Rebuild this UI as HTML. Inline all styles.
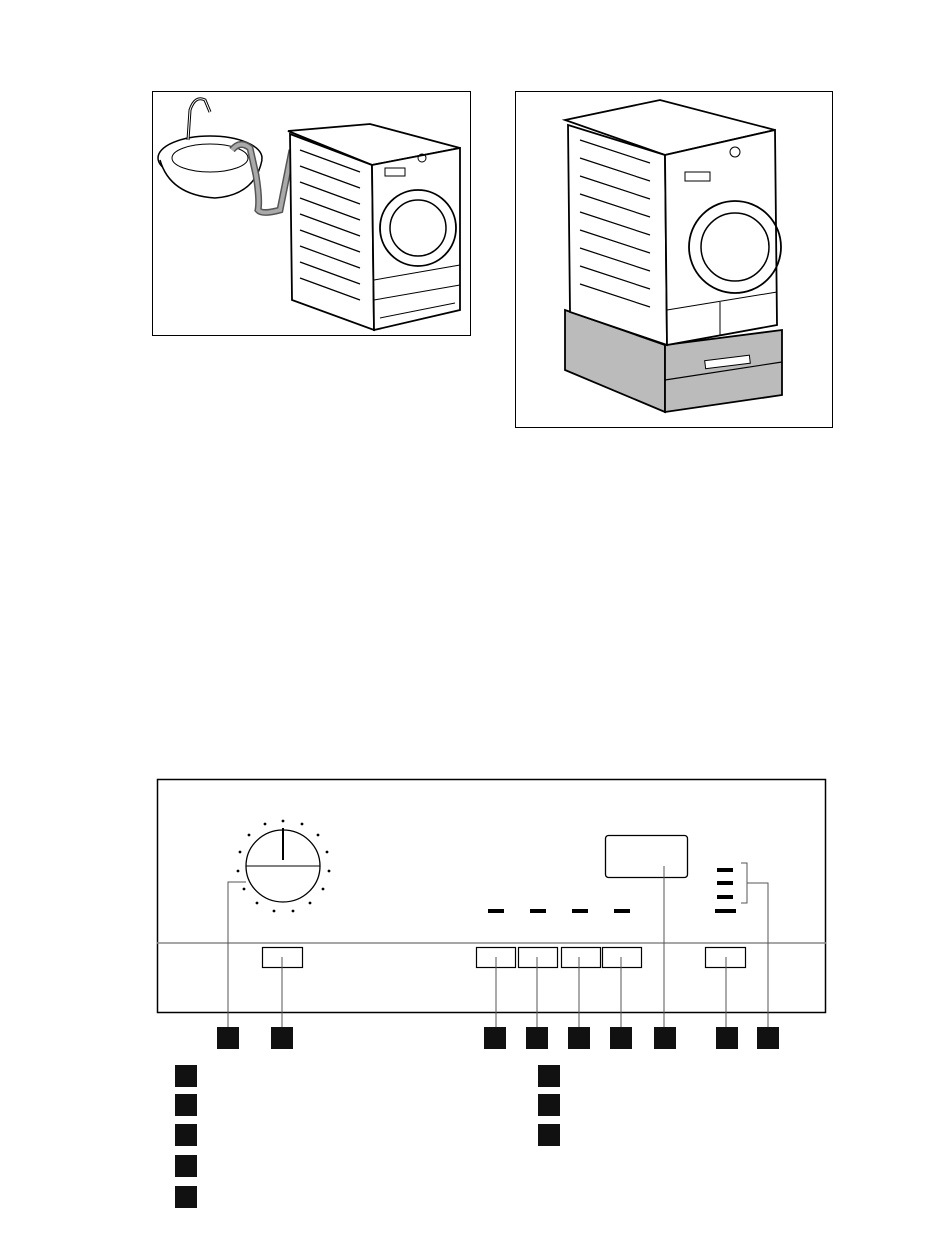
<!DOCTYPE html>
<html><head><meta charset="utf-8"><style>body{margin:0;background:#fff}svg{display:block}</style></head><body>
<svg width="950" height="1244" viewBox="0 0 950 1244" xmlns="http://www.w3.org/2000/svg" fill="none" stroke="#000">
<!-- left illustration -->
<rect x="152.5" y="91.5" width="318" height="244" stroke-width="1"/>
<ellipse cx="210" cy="158" rx="52" ry="22" stroke-width="1.5" fill="#fff"/>
<path d="M160 160 Q170 195 215 198 Q255 195 262 160" stroke-width="1.5" fill="#fff"/>
<ellipse cx="210" cy="158" rx="38" ry="14" stroke-width="1"/>
<path d="M188 140 L190 110 Q195 95 205 100 L210 112" stroke-width="3"/>
<path d="M188 140 L190 110 Q195 95 205 100 L210 112" stroke="#fff" stroke-width="1"/>
<path d="M232 150 Q240 140 250 148 L256 175 Q260 200 258 210 Q262 215 280 210 L292 150" stroke="#555" stroke-width="7"/>
<path d="M232 150 Q240 140 250 148 L256 175 Q260 200 258 210 Q262 215 280 210 L292 150" stroke="#aaa" stroke-width="4"/>
<polygon points="288,131 370,124 460,148 372,165" fill="#fff" stroke-width="1.8"/>
<polygon points="290,134 372,165 374,330 292,300" fill="#fff" stroke-width="1.8"/>
<polygon points="372,165 460,148 460,310 374,330" fill="#fff" stroke-width="1.8"/>
<g stroke-width="1.2">
<path d="M300 150 L360 172 M300 166 L360 188 M300 182 L360 204 M300 198 L360 220 M300 214 L360 236 M300 230 L360 252 M300 246 L360 268 M300 262 L360 284 M300 278 L360 300"/>
</g>
<circle cx="418" cy="228" r="38" stroke-width="1.8"/>
<circle cx="418" cy="228" r="28" stroke-width="1.5"/>
<rect x="385" y="168" width="20" height="8" stroke-width="1"/>
<circle cx="422" cy="158" r="4" stroke-width="1"/>
<path d="M374 280 L460 265 M374 300 L460 285 M380 318 L455 303" stroke-width="1"/>
<!-- right illustration -->
<rect x="515.5" y="91.5" width="317" height="336" stroke-width="1"/>
<polygon points="565,310 665,345 665,412 565,370" fill="#bbb" stroke-width="1.8"/>
<polygon points="665,345 782,330 782,395 665,412" fill="#bbb" stroke-width="1.8"/>
<path d="M665 380 L782 362" stroke-width="1.2"/>
<rect x="705" y="358" width="45" height="8" fill="#fff" stroke-width="1" transform="rotate(-7 727 362)"/>
<polygon points="565,120 660,100 775,130 665,155" fill="#fff" stroke-width="1.8"/>
<polygon points="568,125 665,155 667,345 570,312" fill="#fff" stroke-width="1.8"/>
<polygon points="665,155 775,130 777,325 667,345" fill="#fff" stroke-width="1.8"/>
<g stroke-width="1.2">
<path d="M580 140 L650 163 M580 158 L650 181 M580 176 L650 199 M580 194 L650 217 M580 212 L650 235 M580 230 L650 253 M580 248 L650 271 M580 266 L650 289 M580 284 L650 307"/>
</g>
<circle cx="735" cy="247" r="46" stroke-width="1.8"/>
<circle cx="735" cy="247" r="34" stroke-width="1.5"/>
<rect x="685" y="172" width="25" height="9" stroke-width="1"/>
<circle cx="735" cy="152" r="5" stroke-width="1"/>
<path d="M667 310 L777 292 M720 302 L720 335"/>
<!-- panel -->
<rect x="157.5" y="779.5" width="668" height="233" stroke-width="1.5"/>
<line x1="157" y1="943" x2="826" y2="943" stroke="#888" stroke-width="1.5"/>
<ellipse cx="283" cy="866" rx="37" ry="36" stroke-width="1.3"/>
<line x1="246" y1="866" x2="320" y2="866" stroke-width="1"/>
<line x1="283" y1="828" x2="283" y2="860" stroke-width="2"/>
<g fill="#000" stroke="none">
<circle cx="283" cy="821" r="1.4"/><circle cx="265" cy="824" r="1.4"/><circle cx="302" cy="824" r="1.4"/>
<circle cx="249" cy="835" r="1.4"/><circle cx="318" cy="835" r="1.4"/>
<circle cx="240" cy="852" r="1.4"/><circle cx="327" cy="852" r="1.4"/>
<circle cx="238" cy="871" r="1.4"/><circle cx="329" cy="871" r="1.4"/>
<circle cx="244" cy="889" r="1.4"/><circle cx="323" cy="889" r="1.4"/>
<circle cx="257" cy="903" r="1.4"/><circle cx="310" cy="903" r="1.4"/>
<circle cx="274" cy="911" r="1.4"/><circle cx="293" cy="911" r="1.4"/>
<rect x="488" y="909" width="16" height="4"/><rect x="530" y="909" width="16" height="4"/>
<rect x="572" y="909" width="16" height="4"/><rect x="614" y="909" width="16" height="4"/>
<rect x="715" y="909" width="21" height="4"/>
<rect x="717" y="868" width="16" height="4"/><rect x="717" y="881" width="16" height="4"/><rect x="717" y="895" width="16" height="4"/>
</g>
<rect x="605.5" y="835.5" width="82" height="42" rx="3" stroke-width="1.3"/>
<g stroke-width="1.2">
<rect x="262.5" y="947.5" width="40" height="20"/>
<rect x="476.5" y="947.5" width="39" height="20"/><rect x="518.5" y="947.5" width="39" height="20"/>
<rect x="561.5" y="947.5" width="39" height="20"/><rect x="602.5" y="947.5" width="39" height="20"/>
<rect x="705.5" y="947.5" width="40" height="20"/>
</g>
<g stroke="#555" stroke-width="1">
<path d="M246 882 L228 882 L228 1028"/>
<path d="M282 957 L282 1028"/>
<path d="M496 957 L496 1028 M537 957 L537 1028 M579 957 L579 1028 M621 957 L621 1028"/>
<path d="M664 866 L664 1028"/>
<path d="M726 957 L726 1028"/>
<path d="M741 863 L747 863 L747 903 L741 903 M747 883 L768 883 L768 1028"/>
</g>
<g fill="#111" stroke="none">
<rect x="217" y="1027" width="22" height="22"/><rect x="271" y="1027" width="22" height="22"/>
<rect x="484" y="1027" width="22" height="22"/><rect x="526" y="1027" width="22" height="22"/>
<rect x="568" y="1027" width="22" height="22"/><rect x="610" y="1027" width="22" height="22"/>
<rect x="654" y="1027" width="22" height="22"/><rect x="716" y="1027" width="22" height="22"/>
<rect x="757" y="1027" width="22" height="22"/>
<rect x="175" y="1065" width="22" height="22"/><rect x="175" y="1094" width="22" height="22"/>
<rect x="175" y="1124" width="22" height="22"/><rect x="175" y="1155" width="22" height="22"/>
<rect x="175" y="1186" width="22" height="22"/>
<rect x="538" y="1065" width="22" height="22"/><rect x="538" y="1094" width="22" height="22"/>
<rect x="538" y="1124" width="22" height="22"/>
</g>
</svg>
</body></html>
